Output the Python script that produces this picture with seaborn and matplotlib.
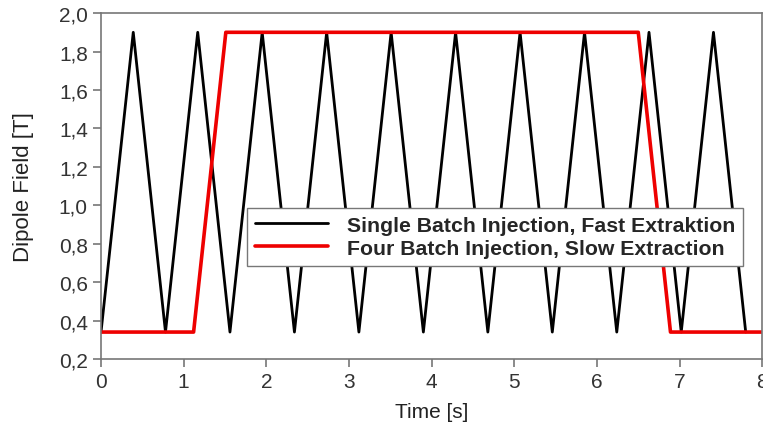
import numpy as np
import pandas as pd
import matplotlib
matplotlib.use("Agg")
import matplotlib.pyplot as plt
import seaborn as sns
from matplotlib.ticker import FuncFormatter

# Single batch: triangular ramps (time in s, field in T)
fast_t = [0.0, 0.39, 0.78, 1.17, 1.56, 1.95, 2.34, 2.73, 3.12, 3.51, 3.90,
          4.29, 4.68, 5.07, 5.46, 5.85, 6.24, 6.63, 7.02, 7.41, 7.80]
fast_b = [0.34, 1.90, 0.34, 1.90, 0.34, 1.90, 0.34, 1.90, 0.34, 1.90, 0.34,
          1.90, 0.34, 1.90, 0.34, 1.90, 0.34, 1.90, 0.34, 1.90, 0.34]

# Four batch: long flat top
slow_t = [0.0, 1.12, 1.51, 6.50, 6.89, 8.0]
slow_b = [0.34, 0.34, 1.90, 1.90, 0.34, 0.34]

label_fast = "Single Batch Injection, Fast Extraktion"
label_slow = "Four Batch Injection, Slow Extraction"

df = pd.concat([
    pd.DataFrame({"t": fast_t, "B": fast_b, "mode": label_fast}),
    pd.DataFrame({"t": slow_t, "B": slow_b, "mode": label_slow}),
], ignore_index=True)

sns.set_style("white")
plt.rcParams['font.family'] = ['Liberation Sans', 'DejaVu Sans']

fig = plt.figure(figsize=(7.63, 4.27), dpi=100)
ax = fig.add_axes([0.1324, 0.157, 0.8666, 0.81])

sns.lineplot(data=df[df["mode"] == label_fast], x="t", y="B", color="black",
             lw=2.0, label=label_fast, ax=ax, sort=False)
sns.lineplot(data=df[df["mode"] == label_slow], x="t", y="B", color="#ee0000",
             lw=2.6, label=label_slow, ax=ax, sort=False)

ax.set_xlim(0, 8)
ax.set_ylim(0.2, 2.0)
ax.set_xticks(range(0, 9))
ax.set_yticks(np.arange(0.2, 2.01, 0.2))
ax.yaxis.set_major_formatter(FuncFormatter(lambda v, p: f"{v:.1f}".replace(".", ",")))

for s in ax.spines.values():
    s.set_color("#777777")
    s.set_linewidth(1.2)
ax.tick_params(axis="both", which="major", direction="out", length=6, width=1.2,
               color="#777777", labelsize=15, labelcolor="#333333", bottom=True, left=True)

ax.set_xlabel("Time [s]", fontsize=15, color="#222222", labelpad=8)
ax.set_ylabel("Dipole Field [T]", fontsize=16, color="#222222", labelpad=18,
              fontstretch="condensed")

leg = ax.legend(loc="upper left", bbox_to_anchor=(0.205, 0.468), frameon=True,
                fancybox=False, framealpha=1, edgecolor="#777777",
                prop={"weight": "bold", "size": 15.3}, handlelength=3.4,
                borderpad=0.38, labelspacing=0.18, handletextpad=0.9)
leg.get_frame().set_linewidth(1.0)

fig.savefig("out.png", dpi=100)
